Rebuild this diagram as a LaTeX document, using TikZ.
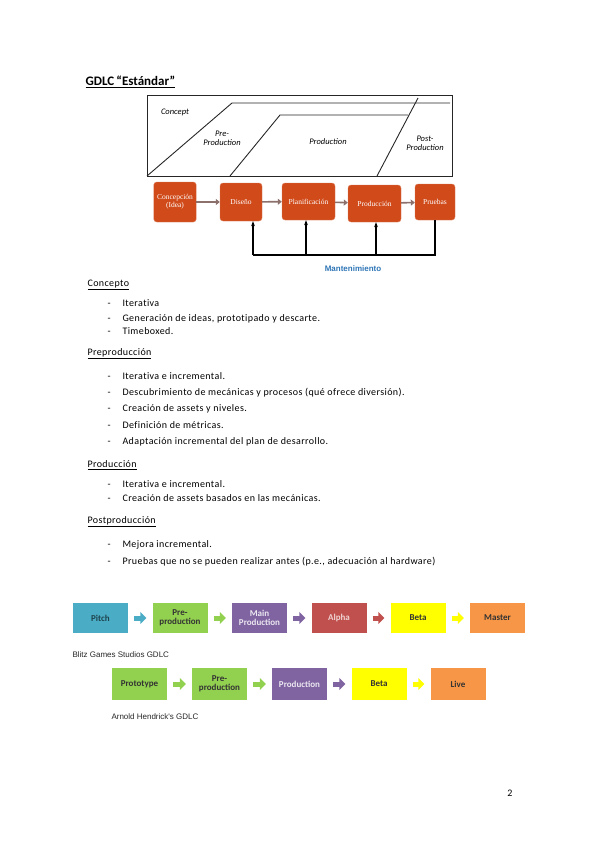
\documentclass[tikz,border=0pt]{standalone}
\usepackage{fontspec}
\setmainfont{Carlito}
\newfontfamily\arialfont{Liberation Sans}
\newfontfamily\timesfont{Liberation Serif}
\usepackage{xcolor}
\usepackage{tikz}
\usetikzlibrary{arrows.meta,positioning,calc,shapes.geometric}
\definecolor{gdlcred}{RGB}{208,74,26}
\definecolor{linkgray}{RGB}{140,112,108}
\definecolor{mantblue}{RGB}{46,117,182}
\definecolor{pitchteal}{RGB}{75,172,198}
\definecolor{pregreen}{RGB}{146,208,80}
\definecolor{mainpurple}{RGB}{128,100,162}
\definecolor{alphared}{RGB}{192,80,77}
\definecolor{betayellow}{RGB}{255,255,0}
\definecolor{masterorange}{RGB}{247,150,70}
\newcommand{\conceptsketch}{
\begin{scope}[draw=black!85,line width=0.9pt]
\draw (147,95) rectangle (452,176);
\draw (147,176) -- (232,103) -- (450,103);
\draw (230,176) -- (280,115) -- (408,115);
\draw (377,176) -- (418,98);
\node[font=\itshape\fontsize{8.5}{9}\selectfont] (sk-concept) at (175,112) {Concept};
\node[font=\itshape\fontsize{8.5}{9}\selectfont,align=center] (sk-pre) at (222,138) {Pre-\\Production};
\node[font=\itshape\fontsize{8.5}{9}\selectfont] (sk-prod) at (328,142) {Production};
\node[font=\itshape\fontsize{8.5}{9}\selectfont,align=center] (sk-post) at (425,143) {Post-\\Production};
\end{scope}
}

\begin{document}
\begin{tikzpicture}[x=1pt,y=-1pt,
  redbox/.style={draw=gdlcred!70!white,fill=gdlcred,rounded corners=3pt,text=white,align=center,font=\timesfont\fontsize{7.5}{8}\selectfont},
  phasebox/.style={minimum width=55pt,inner sep=1pt,align=center,font=\bfseries\fontsize{9}{9.5}\selectfont},
  blockarrow/.style={line width=5pt,-{Triangle[length=6pt,width=12pt]},shorten <=6pt,shorten >=6pt},
  txt/.style={anchor=base west,font=\addfontfeature{LetterSpace=4,Ligatures=NoCommon}\fontsize{10}{12}\selectfont}]
\useasboundingbox (0,0) rectangle (599,848);

% title
\node[anchor=west,font=\bfseries\fontsize{13}{15}\selectfont] (title) at (82,82) {\underline{GDLC\,“Estándar”}};

\conceptsketch

% process boxes
\node[redbox,minimum width=40pt,minimum height=40pt] (concep) at (175,202) {Concepción\\(Idea)};
\node[redbox,minimum width=42pt,minimum height=38pt] (diseno) at (241,202) {Diseño};
\node[redbox,minimum width=53pt,minimum height=37pt] (planif) at (308.5,201.5) {Planificación};
\node[redbox,minimum width=53pt,minimum height=37pt] (produc) at (374.5,203.5) {Producción};
\node[redbox,minimum width=40pt,minimum height=36pt] (pruebas) at (435,202) {Pruebas};
\foreach \a/\b in {concep/diseno,diseno/planif,planif/produc,produc/pruebas}{
  \draw[linkgray,line width=1.6pt,-{Triangle[length=4pt,width=6pt]}] (\a) -- (\b);
}
\coordinate (mbase) at (0,255);
\draw[line width=1.3pt] (pruebas.south) -- (pruebas.south |- mbase) -- ([xshift=12pt]diseno.south |- mbase);
\draw[line width=1.3pt,-{Stealth[length=5pt]}] ([xshift=12pt]diseno.south |- mbase) -- ([xshift=12pt]diseno.south);
\draw[line width=1.3pt,-{Stealth[length=5pt]}] ([xshift=-2.5pt]planif.south |- mbase) -- ([xshift=-2.5pt]planif.south);
\draw[line width=1.3pt,-{Stealth[length=5pt]}] ([xshift=1.5pt]produc.south |- mbase) -- ([xshift=1.5pt]produc.south);
\node[font=\arialfont\bfseries\fontsize{8}{9}\selectfont,text=mantblue] (mant) at (353,269) {Mantenimiento};

% phases
\foreach \y/\t in {283/Concepto,352/Preproducción,464/Producción,520/Postproducción}{
  \node[txt] (h-\y) at (84,\y+3.5) {\underline{\t}};
}
\foreach \y/\t in {303/{Iterativa},318/{Generación de ideas, prototipado y descarte.},331/{Timeboxed.},
  376/{Iterativa e incremental.},392/{Descubrimiento de mecánicas y procesos (qué ofrece diversión).},408/{Creación de assets y niveles.},425/{Definición de métricas.},441/{Adaptación incremental del plan de desarrollo.},
  484/{Iterativa e incremental.},498/{Creación de assets basados en las mecánicas.},
  544/{Mejora incremental.},561/{Pruebas que no se pueden realizar antes (p.e., adecuación al hardware)}}{
  \node[txt] (d-\y) at (104,\y+3.5) {-};
  \node[txt] (b-\y) at (119,\y+3.5) {\t};
}

% Blitz Games Studios
\node[phasebox,fill=pitchteal,minimum height=30pt,text=pitchteal!40!black] (pitch) at (100.5,618) {Pitch};
\node[phasebox,fill=pregreen,minimum height=30pt,text=black!80] (bpre) at (180,618) {Pre-\\production};
\node[phasebox,fill=mainpurple,minimum height=30pt,text=white!85!mainpurple] (bmain) at (259.5,618) {Main\\Production};
\node[phasebox,fill=alphared,minimum height=30pt,text=white!75!alphared] (balpha) at (339,618) {Alpha};
\node[phasebox,fill=betayellow,minimum height=30pt,text=black!80] (bbeta) at (418,618) {Beta};
\node[phasebox,fill=masterorange,minimum height=30pt,text=black!80] (bmaster) at (497.5,618) {Master};
\foreach \a/\b/\c in {pitch/bpre/pitchteal,bpre/bmain/pregreen,bmain/balpha/mainpurple,balpha/bbeta/alphared,bbeta/bmaster/betayellow}{
  \draw[blockarrow,\c] (\a) -- (\b);
}
\node[anchor=west,font=\arialfont\fontsize{8}{9}\selectfont,text=black!85] (blitz) at (69,655) {Blitz Games Studios GDLC};

% Arnold Hendrick
\node[phasebox,fill=pregreen,minimum height=32pt,text=black!80] (proto) at (139.5,684) {Prototype};
\node[phasebox,fill=pregreen,minimum height=32pt,text=black!80] (apre) at (219.5,684) {Pre-\\production};
\node[phasebox,fill=mainpurple,minimum height=32pt,text=white!85!mainpurple] (aprod) at (299.5,684) {Production};
\node[phasebox,fill=betayellow,minimum height=32pt,text=black!80] (abeta) at (379,684) {Beta};
\node[phasebox,fill=masterorange,minimum height=32pt,text=black!80] (alive) at (458,684) {Live};
\foreach \a/\b/\c in {proto/apre/pregreen,apre/aprod/pregreen,aprod/abeta/mainpurple,abeta/alive/betayellow}{
  \draw[blockarrow,\c] (\a) -- (\b);
}
\node[anchor=west,font=\arialfont\fontsize{8}{9}\selectfont,text=black!85] (arnold) at (108,717) {Arnold Hendrick's GDLC};

\node[font=\fontsize{10}{12}\selectfont] (pagenum) at (510,793) {2};
\end{tikzpicture}
\end{document}
